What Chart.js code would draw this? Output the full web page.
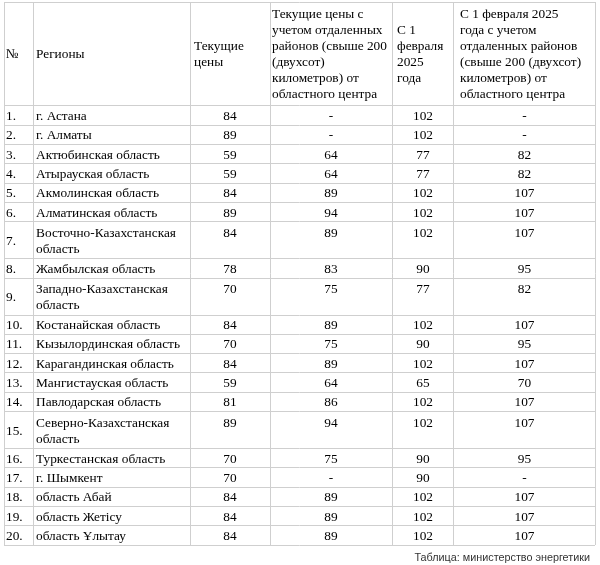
<!DOCTYPE html>
<html><head><meta charset="utf-8">
<script src="https://cdn.jsdelivr.net/npm/chart.js@4.4.1/dist/chart.umd.min.js"></script>
<style>html,body{margin:0;padding:0;background:#fff;} #wrap{width:600px;height:565px;}</style>
</head><body><div id="wrap"><canvas id="c" width="600" height="565"></canvas></div>
<script>
// ---- data ----
const rowNumbers = ["1.","2.","3.","4.","5.","6.","7.","8.","9.","10.","11.","12.","13.","14.","15.","16.","17.","18.","19.","20."];
const regions = ["г. Астана","г. Алматы","Актюбинская область","Атырауская область","Акмолинская область","Алматинская область","Восточно-Казахстанская\nобласть","Жамбылская область","Западно-Казахстанская\nобласть","Костанайская область","Кызылординская область","Карагандинская область","Мангистауская область","Павлодарская область","Северно-Казахстанская\nобласть","Туркестанская область","г. Шымкент","область Абай","область Жетісу","область Ұлытау"];
const currentPrices = [84,89,59,59,84,89,84,78,70,84,70,84,59,81,89,70,70,84,84,84];
const currentPricesRemote = [null,null,64,64,89,94,89,83,75,89,75,89,64,86,94,75,null,89,89,89];
const pricesFeb2025 = [102,102,77,77,102,102,102,90,77,102,90,102,65,102,102,90,90,102,102,102];
const pricesFeb2025Remote = [null,null,82,82,107,107,107,95,82,107,95,107,70,107,107,95,null,107,107,107];
const headers = [
  ["№"],
  ["Регионы"],
  ["Текущие","цены"],
  ["Текущие цены с","учетом отдаленных","районов (свыше 200","(двухсот)","километров) от","областного центра"],
  ["С 1","февраля","2025","года"],
  ["С 1 февраля 2025","года с учетом","отдаленных районов","(свыше 200 (двухсот)","километров) от","областного центра"]
];
const sourceNote = "Таблица: министерство энергетики";

// ---- layout / style ----
const colWidths = [29,157,80,122,62,141];
const colPad = [2,3,4,2,5,6];
const headerH = 104, singleH = 19.3, extraLineH = 17.7, lineH = 16, headLineH = 16;
const gridColor = "#cfcfcf", textColor = "#000";
const cellFont = "13.33px 'Liberation Serif', 'Times New Roman', serif";
const noteFont = "10.8px 'Liberation Sans', Arial, sans-serif";
const baseOff = 4.5;

const colEdges = [0]; colWidths.forEach(w => colEdges.push(colEdges[colEdges.length-1] + w));
const regionLines = regions.map(r => r.split("\n"));
const rowHeights = regionLines.map(l => singleH + (l.length - 1) * extraLineH);
const rowEdges = [0, headerH]; rowHeights.forEach(h => rowEdges.push(rowEdges[rowEdges.length-1] + h));
const valueCols = [currentPrices, currentPricesRemote, pricesFeb2025, pricesFeb2025Remote];

const tablePlugin = {
  id: 'tableText',
  afterDraw(chart) {
    const {ctx, scales: {x, y}} = chart;
    const px = v => x.getPixelForValue(v), py = v => y.getPixelForValue(v);
    ctx.save();
    ctx.fillStyle = textColor;
    ctx.font = cellFont;
    ctx.textBaseline = 'alphabetic';
    // header
    const hMid = (py(rowEdges[0]) + py(rowEdges[1])) / 2;
    headers.forEach((lines, j) => {
      ctx.textAlign = 'left';
      lines.forEach((t, k) => {
        const cy = hMid + (k - (lines.length - 1) / 2) * headLineH;
        ctx.fillText(t, px(colEdges[j]) + colPad[j], cy + baseOff);
      });
    });
    // body
    regions.forEach((r, i) => {
      const top = py(rowEdges[i + 1]), bot = py(rowEdges[i + 2]);
      const mid = (top + bot) / 2;
      const lines = regionLines[i];
      const firstY = mid - (lines.length - 1) / 2 * lineH;
      ctx.textAlign = 'left';
      ctx.fillText(rowNumbers[i], px(colEdges[0]) + colPad[0], mid + baseOff);
      lines.forEach((t, k) => ctx.fillText(t, px(colEdges[1]) + colPad[1], firstY + k * lineH + baseOff));
      ctx.textAlign = 'center';
      valueCols.forEach((arr, c) => {
        const j = c + 2;
        const cx = (px(colEdges[j]) + px(colEdges[j + 1])) / 2;
        const v = arr[i];
        ctx.fillText(v == null ? "-" : String(v), cx, firstY + baseOff);
      });
    });
    // source note
    ctx.font = noteFont;
    ctx.fillStyle = "#333";
    ctx.textAlign = 'right';
    ctx.fillText(sourceNote, chart.chartArea.right - 5, chart.chartArea.bottom + 15.5);
    ctx.restore();
  }
};

new Chart(document.getElementById('c'), {
  type: 'scatter',
  data: { datasets: [{ data: [], pointRadius: 0 }] },
  options: {
    responsive: false, animation: false, devicePixelRatio: 1,
    layout: { padding: { left: 4, top: 2, right: 5, bottom: 20 } },
    plugins: { legend: { display: false }, tooltip: { enabled: false }, title: { display: false } },
    scales: {
      x: {
        type: 'linear', position: 'top', min: 0, max: colEdges[colEdges.length - 1],
        afterBuildTicks: s => { s.ticks = colEdges.map(v => ({ value: v })); },
        ticks: { display: false },
        grid: { color: gridColor, lineWidth: 1, drawTicks: false },
        border: { display: false }
      },
      y: {
        type: 'linear', reverse: true, min: 0, max: rowEdges[rowEdges.length - 1],
        afterBuildTicks: s => { s.ticks = rowEdges.map(v => ({ value: v })); },
        ticks: { display: false },
        grid: { color: gridColor, lineWidth: 1, drawTicks: false },
        border: { display: false }
      }
    }
  },
  plugins: [tablePlugin]
});
</script>
</body></html>
